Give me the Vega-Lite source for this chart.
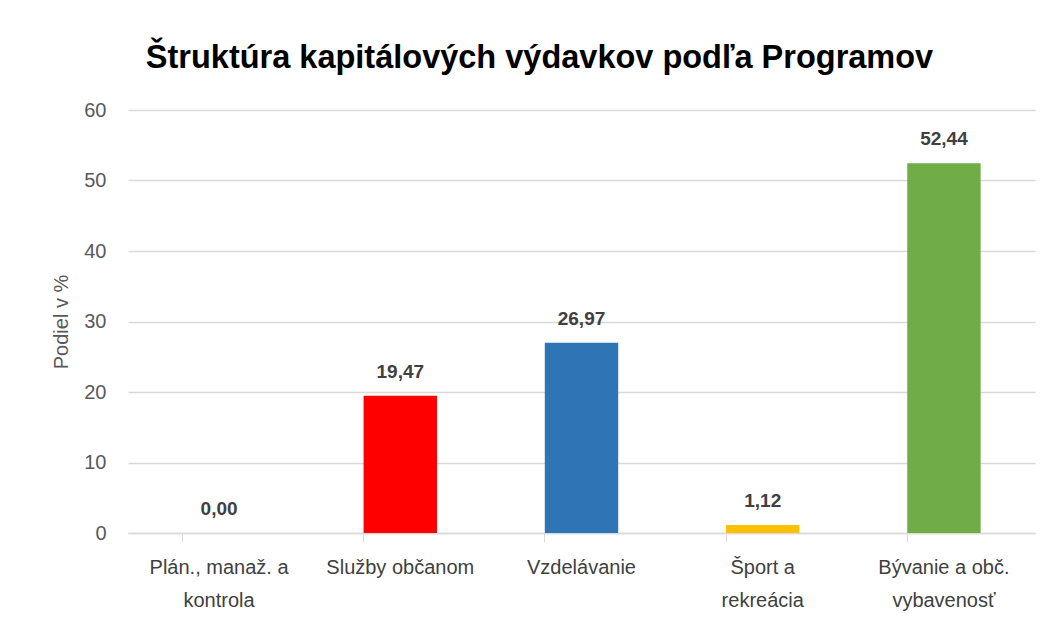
{
  "$schema": "https://vega.github.io/schema/vega-lite/v6.json",
  "autosize": "none",
  "padding": {"left": 128, "top": 110, "right": 21, "bottom": 91},
  "width": 907,
  "height": 423,
  "background": "white",
  "title": {
    "text": "Štruktúra kapitálových výdavkov podľa Programov",
    "font": "Liberation Sans",
    "fontSize": 32.5,
    "fontWeight": "bold",
    "color": "#000000",
    "anchor": "middle",
    "dx": -42,
    "offset": 26
  },
  "data": {
    "values": [
      {"program": "Plán., manaž. a|kontrola", "podiel": 0.00, "farba": "#A5A5A5"},
      {"program": "Služby občanom", "podiel": 19.47, "farba": "#FF0000"},
      {"program": "Vzdelávanie", "podiel": 26.97, "farba": "#2E75B6"},
      {"program": "Šport a|rekreácia", "podiel": 1.12, "farba": "#FFC000"},
      {"program": "Bývanie a obč.|vybavenosť", "podiel": 52.44, "farba": "#70AD47"}
    ]
  },
  "config": {
    "view": {"stroke": null},
    "locale": {"number": {"decimal": ",", "thousands": " ", "grouping": [3], "currency": ["", " €"]}},
    "axis": {"labelFont": "Liberation Sans", "titleFont": "Liberation Sans"}
  },
  "encoding": {
    "x": {
      "field": "program",
      "type": "nominal",
      "sort": null,
      "scale": {"paddingInner": 0.595, "paddingOuter": 0.3},
      "axis": {
        "title": null,
        "labelAngle": 0,
        "labelExpr": "split(datum.label, '|')",
        "labelFontSize": 20,
        "labelColor": "#404040",
        "labelLineHeight": 33,
        "labelPadding": 15,
        "labelLimit": 300,
        "domainColor": "#D9D9D9",
        "domainWidth": 1.3,
        "tickColor": "#D9D9D9",
        "tickSize": 9,
        "bandPosition": 0
      }
    },
    "y": {
      "field": "podiel",
      "type": "quantitative",
      "scale": {"domain": [0, 60]},
      "axis": {
        "title": "Podiel v %",
        "titleFontSize": 20,
        "titleFontWeight": "normal",
        "titleColor": "#595959",
        "titlePadding": 12,
        "values": [0, 10, 20, 30, 40, 50, 60],
        "labelFontSize": 20,
        "labelColor": "#595959",
        "labelPadding": 22,
        "ticks": false,
        "domain": false,
        "gridColor": "#D9D9D9",
        "gridWidth": 1.3
      }
    }
  },
  "layer": [
    {
      "mark": {"type": "bar"},
      "encoding": {
        "color": {"field": "farba", "type": "nominal", "scale": null}
      }
    },
    {
      "mark": {
        "type": "text",
        "baseline": "bottom",
        "dy": -14,
        "font": "Liberation Sans",
        "fontSize": 19,
        "fontWeight": "bold",
        "color": "#404040"
      },
      "encoding": {
        "text": {"field": "podiel", "type": "quantitative", "format": ".2f"}
      }
    }
  ]
}
